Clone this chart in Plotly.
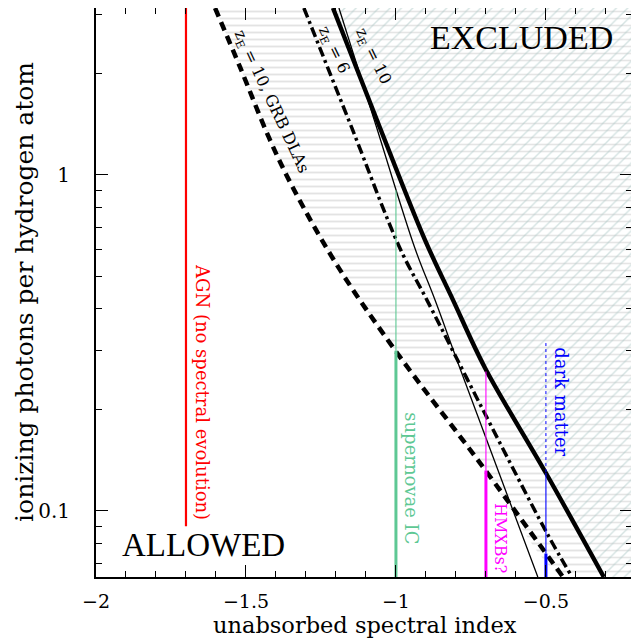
import numpy as np
import plotly.graph_objects as go

# ---------------- data ----------------
x_range = [-2.0, -0.213]
y_range = [0.0636, 3.14]

x_tickvals = [-2.0, -1.5, -1.0, -0.5]
x_ticktext = ["\u22122", "\u22121.5", "\u22121", "\u22120.5"]
y_tickvals = [0.1, 1.0]
y_ticktext = ["0.1", "1"]
y_minor = [0.07, 0.08, 0.09, 0.2, 0.3, 0.4, 0.5, 0.6, 0.7, 0.8, 0.9, 2.0, 3.0]

# z_E = 10, GRB DLAs (thick dashed)
grb_x = [-1.603, -1.52, -1.42, -1.343, -1.197, -1.003, -0.72, -0.443]
grb_y = [3.14, 2.096, 1.271, 0.915, 0.540, 0.301, 0.139, 0.0636]

# z_E = 6 (dash-dot)
ze6_x = [-1.307, -1.147, -0.987, -0.897, -0.71, -0.497, -0.413]
ze6_y = [3.14, 1.380, 0.606, 0.425, 0.200, 0.086, 0.0636]

# z_E = 10 (thick solid)
ze10_x = [-1.21, -1.053, -0.903, -0.81, -0.703, -0.5, -0.307]
ze10_y = [3.14, 1.380, 0.640, 0.425, 0.2665, 0.1297, 0.0636]

# thin solid companion curve
thin_x = [-1.19, -1.067, -0.937, -0.87, -0.787, -0.527]
thin_y = [3.14, 1.409, 0.606, 0.425, 0.2665, 0.0636]

# source spectral indices and line segments
agn_x = -1.7
agn_y = [3.14, 0.09]
sn_x = -1.0
sn_thin_y = [0.90, 0.30]
sn_thick_y = [0.30, 0.0636]
hmxb_x = -0.7
hmxb_thin_y = [0.26, 0.132]
hmxb_thick_y = [0.132, 0.0636]
dm_x = -0.5
dm_dot_y = [0.316, 0.13]
dm_thin_y = [0.13, 0.0747]
dm_thick_y = [0.0747, 0.0636]

# ---------------- styling ----------------
SERIF = "DejaVu Serif"
TIMES = "Liberation Serif"
GREEN = "#5ec894"
MAG = "#ff00ff"
BLUE = "#0000ff"
RED = "#ff0000"

fig = go.Figure()

# hatched region between GRB DLA curve and z_E=10 curve (horizontal dashes)
fig.add_trace(go.Scatter(
    x=grb_x + ze10_x[::-1], y=grb_y + ze10_y[::-1],
    fill="toself", mode="lines", line=dict(width=0, shape="spline", smoothing=1.0),
    fillcolor="rgba(255,255,255,0)",
    fillpattern=dict(shape="-", size=7, solidity=0.27, fgcolor="#c8c8c8", bgcolor="white"),
    hoverinfo="skip", showlegend=False))

# excluded region right of z_E=10 curve (zig-zag: horizontal + diagonal)
ex_x = ze10_x + [x_range[1] + 0.05, x_range[1] + 0.05]
ex_y = ze10_y + [y_range[0] * 0.9, y_range[1] * 1.1]
fig.add_trace(go.Scatter(
    x=ex_x, y=ex_y, fill="toself", mode="lines", line=dict(width=0),
    fillcolor="rgba(255,255,255,0)",
    fillpattern=dict(shape="-", size=7, solidity=0.24, fgcolor="#cccccc", bgcolor="white"),
    hoverinfo="skip", showlegend=False))
fig.add_trace(go.Scatter(
    x=ex_x, y=ex_y, fill="toself", mode="lines", line=dict(width=0),
    fillcolor="rgba(255,255,255,0)",
    fillpattern=dict(shape="/", size=8, solidity=0.18, fgcolor="#acc8c6", bgcolor="rgba(0,0,0,0)"),
    hoverinfo="skip", showlegend=False))

# curves
fig.add_trace(go.Scatter(x=grb_x, y=grb_y, mode="lines",
                         line=dict(color="black", width=4.5, dash="9px,6px", shape="spline", smoothing=1.0),
                         hoverinfo="skip", showlegend=False))
fig.add_trace(go.Scatter(x=ze6_x, y=ze6_y, mode="lines",
                         line=dict(color="black", width=3.5, dash="10px,4px,3px,4px", shape="spline", smoothing=1.0),
                         hoverinfo="skip", showlegend=False))
fig.add_trace(go.Scatter(x=thin_x, y=thin_y, mode="lines",
                         line=dict(color="black", width=1.3, shape="spline", smoothing=1.0),
                         hoverinfo="skip", showlegend=False))
fig.add_trace(go.Scatter(x=ze10_x, y=ze10_y, mode="lines",
                         line=dict(color="black", width=4.4, shape="spline", smoothing=1.0),
                         hoverinfo="skip", showlegend=False))

# source lines
def vseg(x, ys, color, width, dash="solid"):
    fig.add_trace(go.Scatter(x=[x, x], y=ys, mode="lines",
                             line=dict(color=color, width=width, dash=dash),
                             hoverinfo="skip", showlegend=False))

vseg(agn_x, agn_y, RED, 2.2)
vseg(sn_x, sn_thin_y, GREEN, 1.1)
vseg(sn_x, sn_thick_y, GREEN, 3)
vseg(hmxb_x, hmxb_thin_y, MAG, 1.1)
vseg(hmxb_x, hmxb_thick_y, MAG, 3)
vseg(dm_x, dm_dot_y, BLUE, 1, "dot")
vseg(dm_x, dm_thin_y, BLUE, 1.1)
vseg(dm_x, dm_thick_y, BLUE, 3)

L = np.log10
annotations = [
    dict(x=-0.583, y=L(2.557), text="EXCLUDED", font=dict(family=TIMES, size=34, color="black")),
    dict(x=-1.643, y=L(0.0792), text="ALLOWED", font=dict(family=TIMES, size=33, color="black")),
    dict(x=-1.647, y=L(0.226), text="AGN (no spectral evolution)", textangle=90,
         font=dict(family=SERIF, size=18, color=RED)),
    dict(x=-0.951, y=L(0.1254), text="supernovae IC", textangle=90,
         font=dict(family=SERIF, size=18, color=GREEN)),
    dict(x=-0.653, y=L(0.0831), text="HMXBs?", textangle=90,
         font=dict(family=SERIF, size=16, color=MAG)),
    dict(x=-0.447, y=L(0.211), text="dark matter", textangle=90,
         font=dict(family=SERIF, size=18, color=BLUE)),
    dict(x=-1.417, y=L(1.649), text="z<sub>E</sub> = 10, GRB DLAs", textangle=65,
         font=dict(family=SERIF, size=16, color="black")),
    dict(x=-1.21, y=L(2.355), text="z<sub>E</sub> = 6", textangle=64,
         font=dict(family=SERIF, size=16, color="black")),
    dict(x=-1.077, y=L(2.245), text="z<sub>E</sub> = 10", textangle=64,
         font=dict(family=SERIF, size=16, color="black")),
]
for a in annotations:
    a.update(xref="x", yref="y", showarrow=False, xanchor="center", yanchor="middle")

# axis titles as paper annotations
annotations.append(dict(x=0.502, y=-0.0840, xref="paper", yref="paper", showarrow=False,
                        xanchor="center", yanchor="middle", text="unabsorbed spectral index",
                        font=dict(family=SERIF, size=22.5, color="black")))
annotations.append(dict(x=-0.1325, y=0.501, xref="paper", yref="paper", showarrow=False,
                        xanchor="center", yanchor="middle", textangle=-90,
                        text="ionizing photons per hydrogen atom",
                        font=dict(family=SERIF, size=25, color="black")))

# page body adds an 8px offset; size the figure so the plot frame lands where the reference has it
fig.update_layout(
    width=631, height=630,
    margin=dict(l=88, r=7, t=0, b=61, autoexpand=False),
    paper_bgcolor="white", plot_bgcolor="white",
    annotations=annotations,
    showlegend=False,
    xaxis=dict(
        range=x_range, showgrid=False, zeroline=False, automargin=False,
        showline=True, linecolor="black", linewidth=2, mirror="allticks",
        ticks="inside", ticklen=12, tickwidth=1.2, tickcolor="black",
        tickvals=x_tickvals, ticktext=x_ticktext,
        tickfont=dict(family=SERIF, size=19, color="black"),
        ticklabelstandoff=6,
        minor=dict(ticks="inside", ticklen=6, tickwidth=1, tickcolor="black",
                   dtick=0.1, tick0=-2.0, showgrid=False),
    ),
    yaxis=dict(
        type="log", range=[L(y_range[0]), L(y_range[1])],
        showgrid=False, zeroline=False, automargin=False,
        showline=True, linecolor="black", linewidth=2, mirror="allticks",
        ticks="inside", ticklen=12, tickwidth=1.2, tickcolor="black",
        tickvals=y_tickvals, ticktext=y_ticktext,
        tickfont=dict(family=SERIF, size=20, color="black"),
        ticklabelstandoff=20,
        minor=dict(ticks="inside", ticklen=6, tickwidth=1, tickcolor="black",
                   tickvals=y_minor, showgrid=False),
    ),
)

fig.write_html("out.html")
